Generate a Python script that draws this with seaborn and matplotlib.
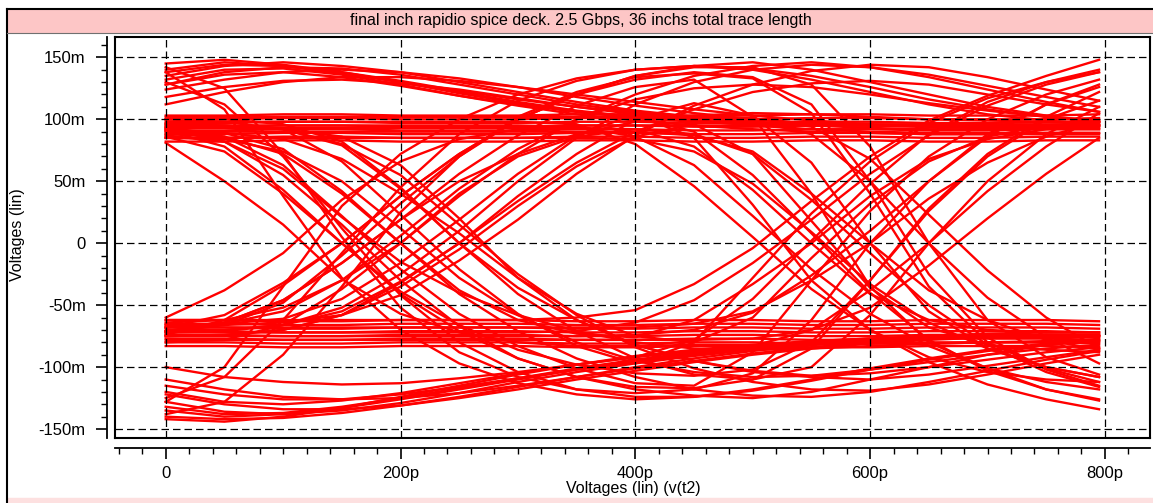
import pandas as pd
import seaborn as sns
import matplotlib.pyplot as plt
from matplotlib.patches import Rectangle
from matplotlib.lines import Line2D
from matplotlib.ticker import MultipleLocator

# sample times (ps) shared by every trace
times_ps = [0, 50, 100, 150, 200, 250, 300, 350, 400, 450, 500, 550, 600, 650, 700, 750, 795]

# voltages in mV, one row per trace, grouped by bit pattern
steady_high = [
    [82, 82, 83, 83, 82, 82, 82, 83, 83, 82, 82, 83, 83, 82, 82, 83, 83],
    [85, 85, 86, 86, 85, 85, 85, 86, 86, 85, 85, 86, 86, 85, 85, 86, 86],
    [88, 88, 89, 89, 88, 88, 88, 89, 89, 88, 88, 89, 89, 88, 88, 89, 89],
    [91, 91, 92, 92, 91, 91, 91, 92, 92, 91, 91, 92, 92, 91, 91, 92, 92],
    [94, 94, 95, 95, 94, 94, 94, 95, 95, 94, 94, 95, 95, 94, 94, 95, 95],
    [97, 97, 98, 98, 97, 97, 97, 98, 98, 97, 97, 98, 98, 97, 97, 98, 98],
    [100, 100, 101, 101, 100, 100, 100, 101, 101, 100, 100, 101, 101, 100, 100, 100, 101],
    [103, 103, 104, 104, 103, 103, 103, 104, 104, 103, 103, 104, 104, 103, 103, 103, 104],
]
steady_low = [
    [-62, -62, -63, -63, -62, -62, -62, -63, -63, -62, -62, -63, -63, -62, -62, -62, -63],
    [-65, -65, -66, -66, -65, -65, -65, -66, -66, -65, -65, -66, -66, -65, -65, -65, -66],
    [-68, -68, -69, -69, -68, -68, -68, -69, -69, -68, -68, -69, -69, -68, -68, -68, -69],
    [-71, -71, -72, -72, -71, -71, -71, -72, -72, -71, -71, -72, -72, -71, -71, -71, -72],
    [-74, -74, -75, -75, -74, -74, -74, -75, -75, -74, -74, -75, -75, -74, -74, -74, -75],
    [-77, -77, -78, -78, -77, -77, -77, -78, -78, -77, -77, -78, -78, -77, -77, -77, -78],
    [-80, -80, -81, -81, -80, -80, -80, -81, -81, -80, -80, -81, -81, -80, -80, -80, -81],
    [-83, -83, -84, -84, -83, -83, -83, -84, -84, -83, -83, -84, -84, -83, -83, -83, -84],
]
fresh_high = [
    [140, 146, 143, 137, 130, 122, 114, 107, 102, 99, 97, 96, 96, 96, 96, 96, 96],
    [135, 143, 146, 143, 138, 130, 122, 114, 107, 102, 98, 95, 93, 92, 92, 92, 92],
    [124, 132, 138, 140, 138, 133, 126, 118, 111, 105, 100, 97, 95, 94, 94, 94, 94],
    [112, 122, 130, 134, 134, 131, 126, 120, 114, 108, 103, 99, 96, 94, 93, 93, 93],
    [145, 148, 144, 138, 130, 121, 113, 106, 101, 98, 96, 95, 95, 95, 95, 95, 95],
    [128, 138, 142, 141, 136, 128, 120, 112, 106, 101, 98, 96, 95, 95, 95, 95, 95],
    [118, 126, 131, 132, 129, 124, 117, 110, 104, 99, 95, 92, 90, 89, 89, 89, 89],
    [132, 140, 141, 136, 128, 119, 111, 104, 99, 95, 92, 90, 89, 88, 88, 88, 88],
]
fresh_low = [
    [-135, -140, -138, -133, -126, -118, -110, -102, -95, -89, -84, -80, -77, -75, -74, -74, -74],
    [-122, -130, -134, -134, -131, -125, -118, -110, -103, -96, -90, -85, -81, -78, -76, -75, -75],
    [-110, -118, -124, -126, -125, -121, -115, -108, -101, -95, -89, -84, -80, -77, -75, -74, -74],
    [-140, -142, -141, -137, -131, -124, -116, -108, -100, -93, -87, -82, -78, -75, -73, -72, -72],
    [-128, -136, -138, -135, -129, -121, -112, -104, -97, -91, -86, -82, -79, -77, -76, -76, -76],
    [-115, -122, -126, -126, -122, -116, -109, -102, -96, -90, -85, -81, -78, -76, -75, -75, -75],
    [-100, -108, -112, -114, -113, -109, -104, -98, -92, -87, -83, -79, -77, -75, -74, -74, -74],
    [-142, -144, -140, -133, -124, -115, -106, -98, -91, -86, -82, -79, -77, -76, -75, -75, -75],
]
fall_first = [
    [91, 78, 43, 0, -41, -71, -93, -108, -118, -123, -125, -120, -110, -100, -90, -82, -77],
    [92, 89, 76, 42, 0, -41, -71, -93, -108, -118, -123, -124, -120, -112, -103, -94, -87],
    [100, 100, 96, 82, 45, 0, -36, -62, -82, -95, -104, -108, -110, -106, -99, -92, -86],
    [87, 82, 60, 21, -15, -40, -58, -71, -80, -85, -86, -85, -83, -81, -80, -79, -79],
    [138, 108, 38, -28, -70, -97, -113, -122, -126, -124, -118, -110, -101, -93, -86, -81, -78],
    [93, 93, 92, 86, 63, 20, -28, -62, -82, -95, -103, -107, -105, -100, -94, -88, -84],
    [81, 50, 15, -29, -57, -72, -80, -83, -83, -82, -82, -82, -81, -81, -80, -80, -80],
    [130, 112, 70, 12, -42, -80, -104, -118, -124, -124, -119, -111, -102, -94, -87, -82, -79],
    [96, 95, 92, 80, 55, 15, -25, -58, -84, -101, -112, -118, -119, -114, -106, -97, -90],
    [85, 84, 74, 50, 12, -28, -58, -80, -95, -104, -108, -107, -102, -96, -90, -85, -82],
]
rise_first = [
    [-68, -58, -32, 0, 38, 72, 100, 120, 135, 143, 146, 140, 130, 120, 110, 103, 98],
    [-68, -65, -55, -30, 0, 38, 72, 100, 120, 135, 143, 146, 142, 134, 124, 114, 106],
    [-75, -74, -70, -58, -32, 0, 34, 65, 90, 108, 122, 129, 131, 128, 120, 112, 106],
    [-71, -64, -46, -16, 19, 50, 72, 88, 98, 103, 105, 104, 102, 100, 99, 98, 98],
    [-128, -100, -35, 30, 72, 100, 120, 133, 140, 143, 140, 132, 122, 112, 104, 99, 96],
    [-66, -66, -64, -58, -42, -14, 19, 56, 87, 111, 128, 139, 144, 142, 134, 124, 115],
    [-60, -38, -8, 35, 66, 84, 92, 95, 95, 95, 95, 95, 95, 95, 95, 95, 95],
    [-125, -108, -62, -8, 45, 88, 115, 131, 140, 143, 141, 135, 126, 116, 108, 102, 98],
    [-72, -71, -66, -52, -25, 10, 50, 85, 112, 130, 140, 144, 142, 136, 127, 118, 110],
    [-64, -62, -52, -30, 6, 44, 76, 100, 116, 125, 128, 126, 120, 113, 107, 102, 99],
]
fall_rise = [
    [94, 86, 63, 22, -21, -57, -83, -101, -113, -115, -88, -30, 26, 70, 100, 120, 132],
    [100, 98, 92, 66, 23, -21, -57, -83, -97, -80, -28, 24, 66, 97, 117, 130, 138],
    [86, 74, 40, 0, -39, -66, -86, -98, -105, -107, -102, -80, -30, 26, 70, 100, 115],
    [96, 95, 92, 79, 44, 0, -41, -71, -93, -106, -110, -100, -58, 0, 50, 88, 110],
    [88, 86, 72, 40, 0, -38, -62, -73, -76, -62, -33, 0, 38, 68, 84, 92, 95],
    [142, 125, 72, 5, -52, -88, -108, -118, -121, -118, -105, -62, 0, 50, 88, 112, 126],
    [92, 82, 55, 15, -30, -67, -93, -108, -116, -117, -110, -85, -30, 28, 72, 102, 122],
    [90, 89, 84, 68, 40, 8, -28, -57, -75, -80, -60, -12, 32, 66, 86, 95, 98],
]
rise_fall = [
    [-71, -64, -46, -16, 19, 56, 87, 111, 126, 132, 102, 40, -35, -80, -101, -112, -118],
    [-66, -65, -61, -45, -16, 19, 56, 87, 104, 85, 31, -30, -70, -92, -104, -110, -112],
    [-74, -62, -34, 0, 38, 72, 100, 120, 135, 142, 142, 128, 78, 0, -62, -92, -106],
    [-70, -70, -66, -55, -31, 0, 38, 72, 100, 113, 103, 65, 0, -55, -85, -100, -108],
    [-80, -78, -66, -37, 0, 40, 70, 86, 92, 78, 43, 0, -41, -62, -70, -72, -72],
    [-138, -128, -90, -35, 25, 70, 102, 122, 134, 137, 133, 105, 40, -35, -80, -101, -112],
    [-72, -66, -48, -10, 32, 70, 100, 120, 132, 138, 134, 112, 50, -25, -76, -102, -115],
    [-75, -74, -70, -58, -35, -5, 30, 62, 86, 96, 72, 18, -36, -68, -82, -86, -88],
]
fall_second = [
    [95, 95, 95, 95, 95, 95, 95, 94, 86, 63, 22, -21, -57, -83, -101, -118, -127],
    [90, 90, 90, 90, 90, 90, 90, 90, 90, 87, 74, 40, 0, -38, -62, -78, -86],
    [138, 144, 143, 138, 131, 123, 116, 110, 105, 102, 99, 88, 50, 0, -44, -76, -97],
    [102, 102, 102, 102, 102, 102, 102, 102, 102, 102, 101, 94, 68, 23, -22, -60, -85],
    [85, 85, 85, 85, 85, 85, 85, 85, 84, 74, 48, 9, -33, -64, -85, -100, -108],
    [98, 98, 98, 98, 98, 98, 98, 96, 80, 46, 5, -37, -70, -96, -114, -126, -134],
    [93, 93, 93, 93, 93, 93, 93, 93, 92, 88, 72, 35, -8, -50, -82, -104, -116],
    [128, 136, 138, 134, 127, 119, 112, 106, 102, 90, 55, 8, -40, -78, -103, -118, -126],
]
rise_second = [
    [-72, -72, -72, -72, -72, -72, -72, -71, -64, -46, -16, 19, 56, 87, 111, 128, 138],
    [-68, -68, -68, -68, -68, -68, -68, -68, -68, -65, -55, -30, 0, 36, 65, 86, 98],
    [-132, -138, -137, -132, -125, -117, -109, -101, -94, -88, -83, -70, -38, 0, 42, 78, 105],
    [-78, -78, -78, -78, -78, -78, -78, -78, -78, -78, -77, -70, -52, -18, 20, 56, 85],
    [-62, -62, -62, -62, -62, -62, -62, -60, -54, -33, -4, 34, 70, 99, 119, 135, 148],
    [-75, -75, -75, -75, -75, -75, -75, -75, -74, -70, -56, -26, 10, 50, 86, 112, 128],
    [-120, -128, -130, -127, -121, -113, -105, -98, -92, -78, -45, 2, 48, 88, 114, 130, 140],
]

x_ticks = [0, 200, 400, 600, 800]
x_labels = ['0', '200p', '400p', '600p', '800p']
y_ticks = [-150, -100, -50, 0, 50, 100, 150]
y_labels = ['-150m', '-100m', '-50m', '0', '50m', '100m', '150m']

title = 'final inch rapidio spice deck. 2.5 Gbps, 36 inchs total trace length'

# long table for seaborn
rows = []
groups = [steady_high, steady_low, fresh_high, fresh_low, fall_first,
          rise_first, fall_rise, rise_fall, fall_second, rise_second]
n = 0
for group in groups:
    for trace in group:
        for t, v in zip(times_ps, trace):
            rows.append({'time': t, 'volt': v, 'trace': n})
        n += 1
df = pd.DataFrame(rows)

plt.rcParams['font.family'] = ['Liberation Sans', 'DejaVu Sans']

W, H = 1153, 503
fig = plt.figure(figsize=(W / 100, H / 100), dpi=100)


def fx(x):
    return x / W


def fy(y):
    return 1 - y / H


pos = [fx(115), fy(438), fx(1150) - fx(115), fy(37) - fy(438)]
xlim = (-43.2, 838.4)
ylim = (-157.2, 166.4)

# plot box with the traces and dashed grid
ax = fig.add_axes(pos)
sns.lineplot(data=df, x='time', y='volt', units='trace', estimator=None,
             color='#ff0000', linewidth=1.7, ax=ax, legend=False)
ax.set_xlim(xlim)
ax.set_ylim(ylim)
ax.set_xticks(x_ticks)
ax.set_yticks(y_ticks)
ax.tick_params(length=0, labelleft=False, labelbottom=False)
ax.grid(True, color='black', linewidth=0.9, linestyle=(0, (6, 3.2)))
ax.set_axisbelow(False)
ax.set_xlabel('')
ax.set_ylabel('')
for s in ax.spines.values():
    s.set_linewidth(1.5)
    s.set_color('black')

# detached rulers
ax2 = fig.add_axes(pos, facecolor='none')
ax2.set_xlim(xlim)
ax2.set_ylim(ylim)
ax2.spines['top'].set_visible(False)
ax2.spines['right'].set_visible(False)
ax2.spines['left'].set_position(('outward', 6))
ax2.spines['bottom'].set_position(('outward', 7))
ax2.spines['left'].set_linewidth(1.3)
ax2.spines['bottom'].set_linewidth(1.3)
ax2.set_xticks(x_ticks, x_labels)
ax2.set_yticks(y_ticks, y_labels)
ax2.xaxis.set_minor_locator(MultipleLocator(20))
ax2.yaxis.set_minor_locator(MultipleLocator(10))
ax2.tick_params(which='major', direction='out', length=8, width=1.2, labelsize=12)
ax2.tick_params(axis='y', which='major', pad=7)
ax2.tick_params(axis='x', which='major', pad=5)
ax2.tick_params(which='minor', direction='out', length=4, width=1)

# window chrome: pink title strip, borders
fig.add_artist(Rectangle((fx(7), fy(32)), fx(1153) - fx(7), fy(10) - fy(32),
                         transform=fig.transFigure, color='#fdc6c6', zorder=0))
fig.add_artist(Rectangle((fx(7), 0), fx(1153) - fx(7), fy(498),
                         transform=fig.transFigure, color='#fde0e0', zorder=0))
fig.add_artist(Line2D([fx(7), 1], [fy(9), fy(9)], color='black', linewidth=1.5))
fig.add_artist(Line2D([fx(7), fx(7)], [0, fy(9)], color='black', linewidth=1.5))
fig.add_artist(Line2D([fx(7), 1], [fy(32.5), fy(32.5)], color='#707070', linewidth=0.8))

fig.text(fx(581), fy(21), title, ha='center', va='center', fontsize=11.5)
fig.text(fx(18), fy(235), 'Voltages (lin)', rotation=90, ha='center', va='center', fontsize=11.5)
fig.text(fx(633), fy(488), 'Voltages (lin) (v(t2)', ha='center', va='center', fontsize=11.5)

fig.savefig('out.png', dpi=100)
